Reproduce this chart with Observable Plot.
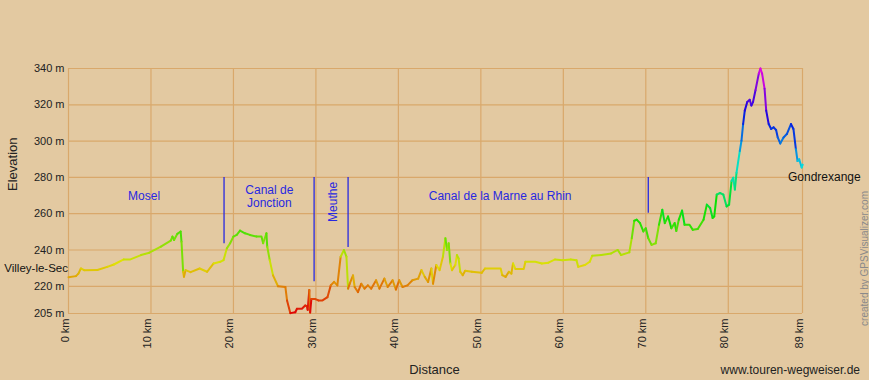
<!DOCTYPE html>
<html>
<head>
<meta charset="utf-8">
<script src="https://cdn.jsdelivr.net/npm/d3@7"></script>
<script src="https://cdn.jsdelivr.net/npm/@observablehq/plot@0.6"></script>
<style>
  html, body { margin: 0; padding: 0; background: #e3c9a1; }
  #chart { width: 869px; height: 380px; }
</style>
</head>
<body>
<div id="chart"></div>
<script>
// Elevation profile: distance (km) and elevation (m)
const km = [
  0.0, 0.9, 1.2, 1.5, 1.9, 3.5, 4.7, 5.5, 6.7, 7.5, 8.8, 9.8, 11.2, 12.4, 12.6, 12.8, 13.2, 13.6, 13.7, 13.9,
  14.0, 14.2, 14.8, 15.9, 16.8, 17.6, 18.4, 18.8, 19.2, 19.6, 20.0, 20.4, 20.8, 21.4, 22.0, 22.8, 23.4, 23.6, 24.0, 24.1,
  24.4, 24.8, 25.4, 26.3, 26.5, 26.9, 27.5, 27.7, 28.3, 28.7, 28.9, 29.0, 29.2, 29.3, 29.45, 29.9, 30.3, 30.8, 31.4, 31.8,
  32.2, 32.6, 33.0, 33.4, 33.7, 33.9, 34.1, 34.5, 34.7, 35.1, 35.5, 35.9, 36.3, 36.7, 37.3, 37.7, 38.3, 38.7, 39.3, 39.7,
  40.1, 40.5, 41.1, 41.7, 42.4, 42.8, 43.2, 43.6, 44.0, 44.2, 44.6, 45.0, 45.4, 45.7, 45.9, 46.1, 46.3, 46.5, 46.9, 47.1,
  47.3, 47.5, 47.8, 48.1, 48.9, 50.1, 50.5, 51.4, 52.4, 52.6, 53.0, 53.4, 53.7, 53.9, 54.2, 55.2, 55.4, 56.6, 57.4, 58.2,
  59.0, 59.9, 60.9, 61.6, 61.8, 62.6, 63.2, 63.5, 64.6, 65.8, 66.6, 67.0, 68.0, 68.3, 68.6, 68.9, 69.3, 69.7, 70.0, 70.3,
  70.7, 71.2, 71.6, 72.0, 72.3, 72.7, 73.1, 73.5, 73.7, 74.0, 74.4, 74.7, 75.3, 75.7, 76.3, 77.0, 77.4, 77.8, 78.1, 78.3,
  78.6, 79.0, 79.4, 79.8, 80.1, 80.4, 80.6, 80.8, 81.0, 81.4, 81.6, 81.8, 82.0, 82.3, 82.6, 82.8, 83.0, 83.3, 83.7, 83.9,
  84.1, 84.4, 84.6, 84.9, 85.2, 85.5, 85.8, 86.0, 86.3, 86.7, 87.1, 87.6, 87.9, 88.2, 88.4, 88.6, 88.9, 89.0
];
const elevation = [
  225.0, 225.6, 227.0, 229.8, 228.9, 229.0, 230.7, 232.0, 234.8, 234.8, 237.2, 238.5, 241.8, 245.2, 247.4, 245.5, 248.9, 250.2, 244.6, 228.0,
  225.2, 228.9, 227.8, 229.8, 228.0, 232.6, 233.5, 234.4, 240.9, 243.7, 247.4, 248.3, 250.7, 249.2, 248.3, 247.4, 247.4, 243.7, 249.2, 241.8,
  234.4, 226.0, 220.0, 219.6, 212.2, 205.2, 205.7, 207.6, 207.6, 209.4, 209.0, 207.0, 218.0, 205.5, 213.0, 213.0, 212.2, 212.2, 214.0, 220.5,
  222.4, 220.5, 236.3, 240.0, 236.3, 218.7, 221.4, 226.0, 219.6, 216.8, 221.4, 218.7, 220.5, 218.7, 223.3, 218.7, 224.2, 219.6, 223.3, 218.2,
  223.3, 219.6, 220.5, 223.3, 224.2, 228.9, 225.2, 222.4, 229.8, 221.4, 231.7, 228.9, 236.3, 246.5, 240.0, 243.7, 232.6, 228.9, 231.7, 237.2,
  235.3, 228.0, 226.1, 228.5, 228.0, 227.4, 229.8, 229.8, 229.8, 226.1, 225.2, 228.0, 227.0, 232.6, 229.5, 229.5, 233.5, 233.5, 232.6, 233.0,
  234.8, 234.4, 234.8, 234.4, 230.7, 231.7, 233.5, 236.8, 237.2, 238.1, 240.0, 237.2, 238.7, 246.5, 256.1, 256.7, 254.8, 250.2, 252.0, 246.5,
  242.8, 243.7, 253.9, 262.2, 254.8, 258.5, 252.0, 254.8, 250.5, 256.7, 261.7, 253.9, 253.9, 251.1, 251.6, 256.7, 265.0, 263.1, 257.6, 258.5,
  270.5, 271.4, 270.5, 264.0, 265.0, 278.0, 279.8, 273.3, 282.6, 294.6, 300.2, 309.4, 316.8, 321.5, 322.8, 319.6, 321.5, 328.0, 337.2, 340.0,
  337.2, 328.9, 316.8, 309.4, 306.7, 307.6, 306.1, 302.0, 298.7, 302.0, 303.9, 309.4, 306.7, 295.5, 289.0, 290.0, 285.4, 287.0
];

// Axis ticks
const xTicks = [0, 10, 20, 30, 40, 50, 60, 70, 80, 89];
const yTicks = [205, 220, 240, 260, 280, 300, 320, 340];

// Waypoint markers
const markerKm = [18.86, 29.78, 33.9, 70.3];
const markerBottom = [243.5, 222.5, 241.3, 260.2];
const markerTop = [280, 280, 280, 280];

// Section labels
const sectionText = ["Mosel", "Canal de\nJonction", "Canal de la Marne au Rhin"];
const sectionKm = [9.16, 24.35, 52.34];
const sectionEle = [269.6, 269.6, 269.6];
const verticalText = ["Meuthe"];
const verticalKm = [32.05];
const verticalEle = [266.5];

// End point labels
const startLabel = ["Villey-le-Sec"];
const startEle = [229.9];
const endLabel = ["Gondrexange"];
const endEle = [280.2];

const profile = km.map((k, i) => ({km: k, ele: elevation[i]}));
const markers = markerKm.map((k, i) => ({km: k, top: markerTop[i], bottom: markerBottom[i]}));
const sections = sectionText.map((t, i) => ({text: t, km: sectionKm[i], ele: sectionEle[i]}));
const verticals = verticalText.map((t, i) => ({text: t, km: verticalKm[i], ele: verticalEle[i]}));

const bg = "#e3c9a1";
const grid = "#d9a86b";
const blue = "#2828e0";
const font = "'Liberation Sans', Arial, sans-serif";

const chart = Plot.plot({
  width: 869,
  height: 380,
  marginLeft: 68,
  marginRight: 67,
  marginTop: 68,
  marginBottom: 67,
  style: {background: bg, fontFamily: font, overflow: "visible"},
  x: {domain: [0, 89], axis: null},
  y: {domain: [205, 340], axis: null},
  color: {type: "linear", domain: [205, 340], interpolate: t => d3.hsl(300 * t, 0.95, 0.45).formatHex()},
  marks: [
    Plot.ruleX(xTicks, {x: d => d, stroke: grid, strokeWidth: 1.2}),
    Plot.ruleY(yTicks, {y: d => d, stroke: grid, strokeWidth: 1.2}),
    Plot.line(profile, {x: "km", y: "ele", stroke: "ele", z: null, strokeWidth: 2, strokeLinejoin: "round"}),
    Plot.ruleX(markers, {x: "km", y1: "top", y2: "bottom", stroke: blue, strokeWidth: 1.3}),
    Plot.text(sections, {x: "km", y: "ele", text: "text", fill: blue, fontSize: 12, lineHeight: 1.1}),
    Plot.text(verticals, {x: "km", y: "ele", text: "text", fill: blue, fontSize: 12, rotate: -90}),
    // y tick labels
    Plot.text(yTicks, {y: d => d, text: d => d + " m", frameAnchor: "left", textAnchor: "end", dx: -4, fontSize: 11, fill: "#222"}),
    // x tick labels
    Plot.text(xTicks, {x: d => d, text: d => d + " km", frameAnchor: "bottom", textAnchor: "end", rotate: -90, dy: 5, fontSize: 11, fill: "#222"}),
    // point labels
    Plot.text(startLabel, {x: () => 0, y: () => startEle[0], text: d => d, textAnchor: "end", dx: -0.5, fontSize: 11.5, fill: "#111"}),
    Plot.text(endLabel, {x: () => 89, y: () => endEle[0], text: d => d, textAnchor: "start", dx: -14.5, fontSize: 12, fill: "#111"}),
    // titles
    Plot.text(["Elevation"], {frameAnchor: "left", text: d => d, rotate: -90, dx: -55.5, fontSize: 13, fill: "#222"}),
    Plot.text(["Distance"], {frameAnchor: "bottom", text: d => d, dy: 60, dx: -1, fontSize: 13, fill: "#222"}),
    Plot.text(["www.touren-wegweiser.de"], {frameAnchor: "bottom-right", text: d => d, textAnchor: "end", dx: 57.5, dy: 60, fontSize: 12, fill: "#222"}),
    Plot.text(["created by GPSVisualizer.com"], {frameAnchor: "right", text: d => d, rotate: -90, dx: 62, fontSize: 10, fill: "#8a8a8a"})
  ]
});

document.getElementById("chart").appendChild(chart);
</script>
</body>
</html>
